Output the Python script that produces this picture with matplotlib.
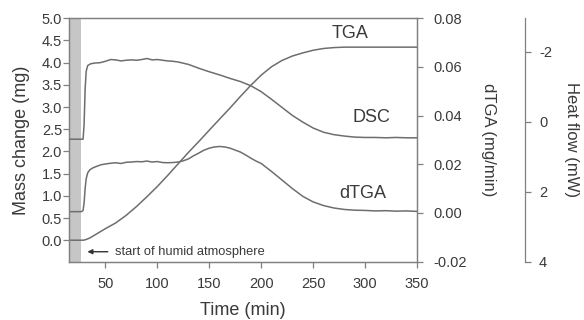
import numpy as np
import matplotlib
matplotlib.use('Agg')
import matplotlib.pyplot as plt

plt.rcParams['font.family'] = ['Liberation Sans', 'DejaVu Sans']
plt.rcParams['axes.unicode_minus'] = False

# TGA mass change (mg)
t_tga = [15, 29, 32, 35, 40, 50, 60, 70, 80, 90, 100, 110, 120, 130, 141, 150, 160, 170,
         180, 190, 200, 210, 220, 230, 240, 250, 260, 270, 280, 300, 350]
tga = [0, 0, 0.02, 0.05, 0.12, 0.26, 0.39, 0.56, 0.76, 0.98, 1.21, 1.46, 1.72, 1.98, 2.25,
       2.48, 2.73, 2.98, 3.24, 3.49, 3.72, 3.91, 4.05, 4.15, 4.22, 4.28, 4.32, 4.34, 4.35, 4.35, 4.35]

# DSC heat flow (mW)
t_dsc = [15, 28.5, 29.5, 30.5, 31.5, 33, 36, 40, 45, 50, 55, 60, 65, 70, 75, 80, 85, 90, 95,
         100, 105, 110, 115, 120, 130, 140, 150, 160, 170, 180, 190, 200, 210, 220, 230, 240,
         250, 260, 270, 280, 290, 300, 310, 320, 330, 340, 350]
dsc = [0.50, 0.50, 0.08, -0.93, -1.44, -1.61, -1.66, -1.68, -1.69, -1.73, -1.78, -1.77, -1.74,
       -1.76, -1.77, -1.76, -1.78, -1.81, -1.77, -1.78, -1.76, -1.74, -1.73, -1.71, -1.64, -1.53,
       -1.43, -1.34, -1.24, -1.15, -1.03, -0.86, -0.64, -0.41, -0.18, 0.01, 0.18, 0.30, 0.37,
       0.41, 0.44, 0.45, 0.45, 0.46, 0.45, 0.46, 0.46]

# dTGA (mg/min)
t_dtga = [15, 27, 28.5, 29.5, 30.5, 31.5, 33, 35, 38, 42, 46, 50, 55, 60, 65, 70, 75, 80, 85,
          90, 95, 100, 105, 110, 115, 120, 125, 130, 135, 140, 145, 150, 155, 160, 165, 170,
          175, 180, 185, 190, 195, 200, 210, 220, 230, 240, 250, 260, 270, 280, 290, 300, 310,
          320, 330, 340, 350]
dtga = [0.0005, 0.0005, 0.001, 0.004, 0.010, 0.014, 0.0165, 0.0177, 0.0185, 0.0192, 0.0198,
        0.0201, 0.0204, 0.0206, 0.0203, 0.0208, 0.0209, 0.0211, 0.0210, 0.0213, 0.0209, 0.0211,
        0.0207, 0.0206, 0.0207, 0.0209, 0.0214, 0.0222, 0.0235, 0.0246, 0.0258, 0.0266, 0.0271,
        0.0273, 0.0271, 0.0266, 0.0258, 0.0250, 0.0238, 0.0225, 0.0213, 0.0203, 0.0170, 0.0135,
        0.0100, 0.0068, 0.0045, 0.0030, 0.0020, 0.0014, 0.0011, 0.0010, 0.0008, 0.0009, 0.0007,
        0.0008, 0.0006]

line_col = '#6e6e6e'
spine_col = '#808080'
text_col = '#3a3a3a'

fig = plt.figure(figsize=(5.84, 3.2), dpi=100)
ax = fig.add_axes([0.1182, 0.1828, 0.5959, 0.760])
ax2 = ax.twinx()
ax3 = ax.twinx()

ax.axvspan(15, 27, color='#c6c6c6', lw=0, zorder=0)
ax.plot(t_tga, tga, color=line_col, lw=1.1)
ax2.plot(t_dtga, dtga, color=line_col, lw=1.1)
ax3.plot(t_dsc, dsc, color=line_col, lw=1.1)

ax.set_xlim(15, 350)
ax.set_ylim(-0.48, 5.0)
ax2.set_ylim(-0.02, 0.08)
ax3.set_ylim(4, -2.96)

ax.set_xticks(np.arange(50, 351, 50))
ax.set_yticks(np.arange(0, 5.01, 0.5))
ax.yaxis.set_major_formatter(matplotlib.ticker.FormatStrFormatter('%.1f'))
ax2.set_yticks(np.arange(-0.02, 0.081, 0.02))
ax2.yaxis.set_major_formatter(matplotlib.ticker.FormatStrFormatter('%.2f'))
ax3.set_yticks([-2, 0, 2, 4])

# 108 px at 100 dpi
ax3.spines['right'].set_position(('outward', 77.8))
for s in ['top', 'bottom', 'left']:
    ax3.spines[s].set_visible(False)

for a in [ax, ax2, ax3]:
    for s in a.spines.values():
        s.set_color(spine_col)
        s.set_linewidth(0.9)
    a.tick_params(colors=spine_col, labelcolor=text_col, labelsize=10.5, length=4, width=0.9)

ax.tick_params(axis='y', pad=1)
ax.tick_params(axis='x', pad=7)
ax2.tick_params(axis='y', pad=8)
ax3.tick_params(axis='y', pad=6)

ax.set_xlabel('Time (min)', fontsize=13, color=text_col, labelpad=8)
ax.set_ylabel('Mass change (mg)', fontsize=13, color=text_col, labelpad=8)
ax2.set_ylabel('dTGA (mg/min)', fontsize=12, color=text_col, rotation=270, va='bottom', labelpad=10)
ax3.set_ylabel('Heat flow (mW)', fontsize=12, color=text_col, rotation=270, va='bottom', labelpad=9)

ax.text(285.5, 4.66, 'TGA', fontsize=13, color=text_col, ha='center', va='center')
ax.text(306, 2.76, 'DSC', fontsize=13, color=text_col, ha='center', va='center')
ax.text(298, 1.05, 'dTGA', fontsize=13, color=text_col, ha='center', va='center')

ax.annotate('', xy=(30, -0.26), xytext=(55, -0.26),
            arrowprops=dict(arrowstyle='-|>', color='#333333', lw=1.0, mutation_scale=7))
ax.text(59, -0.26, 'start of humid atmosphere', fontsize=9.3, color=text_col, va='center')

fig.savefig('out.png', dpi=100)
